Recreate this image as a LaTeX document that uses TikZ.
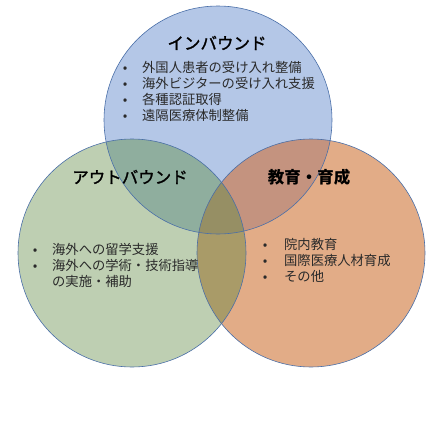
\documentclass[tikz,border=0pt]{standalone}
\usepackage{fontspec}
\setmainfont{Noto Sans CJK JP}
\newfontfamily\titlefont{Noto Sans CJK JP}[FakeBold=1.5]
\newfontfamily\itemfont{Noto Sans CJK JP}
\definecolor{cblue}{HTML}{B4C7E7}
\definecolor{cgreen}{HTML}{BECFB2}
\definecolor{corange}{HTML}{E2AC87}
\definecolor{cbg}{HTML}{8FAE9E}
\definecolor{cbo}{HTML}{C4937F}
\definecolor{cgo}{HTML}{A99B68}
\definecolor{call}{HTML}{968F64}
\definecolor{cline}{HTML}{4A6FA8}
\definecolor{ctext}{HTML}{2A2A2A}
\newcommand\bul{\makebox[6pt][c]{•}}
\tikzset{
  ring/.style={draw=cline, line width=0.6pt},
  title/.style={inner sep=0pt, font=\titlefont\fontsize{16.5}{19}\selectfont, text=black},
  items/.style={inner sep=0pt, anchor=west, font=\itemfont\fontsize{13.3}{15.5}\selectfont, text=ctext}
}
\begin{document}
\begin{tikzpicture}[x=1pt,y=-1pt]
\useasboundingbox (0,0) rectangle (440,424);
\fill[white] (0,0) rectangle (440,424);
\coordinate (B) at (218,120);
\coordinate (G) at (132,253);
\coordinate (O) at (311,253);
\def\R{114pt}
\fill[cblue] (B) circle[radius=\R];
\fill[cgreen] (G) circle[radius=\R];
\fill[corange] (O) circle[radius=\R];
\begin{scope}
  \clip (B) circle[radius=\R];
  \fill[cbg] (G) circle[radius=\R];
  \fill[cbo] (O) circle[radius=\R];
\end{scope}
\begin{scope}
  \clip (G) circle[radius=\R];
  \fill[cgo] (O) circle[radius=\R];
  \clip (O) circle[radius=\R];
  \fill[call] (B) circle[radius=\R];
\end{scope}
\draw[ring] (B) circle[radius=\R];
\draw[ring] (G) circle[radius=\R];
\draw[ring] (O) circle[radius=\R];

\node[title] (tin) at (217,43) {インバウンド};
\node[title] (tout) at (130,177) {アウトバウンド};
\node[title, font=\bfseries\fontsize{16.5}{19}\selectfont] (tedu) at (309,177) {教育・育成};

\node[items] (lin) at (122,93.5) {\begin{tabular}{@{}c@{\hspace{14pt}}l@{}}
\bul & 外国人患者の受け入れ整備\\
\bul & 海外ビジターの受け入れ支援\\
\bul & 各種認証取得\\
\bul & 遠隔医療体制整備
\end{tabular}};
\node[items] (lout) at (32,267) {\begin{tabular}{@{}c@{\hspace{14pt}}l@{}}
\bul & 海外への留学支援\\
\bul & 海外への学術・技術指導\\
 & の実施・補助
\end{tabular}};
\node[items] (ledu) at (262,262) {\begin{tabular}{@{}c@{\hspace{16pt}}l@{}}
\bul & 院内教育\\
\bul & 国際医療人材育成\\
\bul & その他
\end{tabular}};
\end{tikzpicture}
\end{document}
